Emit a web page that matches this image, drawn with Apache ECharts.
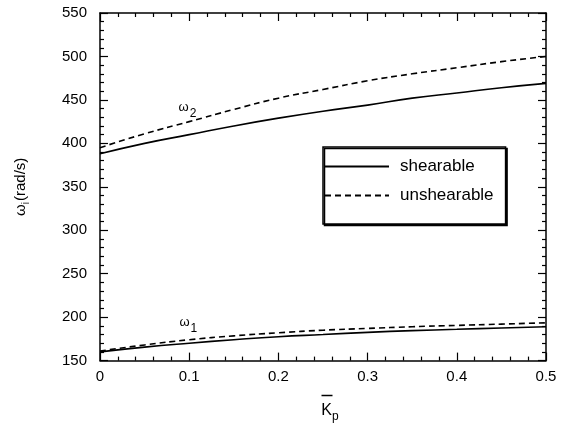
<!DOCTYPE html>
<html>
<head>
<meta charset="utf-8">
<script src="https://cdn.jsdelivr.net/npm/echarts@6/dist/echarts.min.js"></script>
<style>
  html, body { margin: 0; padding: 0; background: #fff; }
  #chart { width: 565px; height: 428px; }
</style>
</head>
<body>
<div id="chart"></div>
<script>
// ---- data ----
const kp = [0, 0.05, 0.1, 0.15, 0.2, 0.25, 0.3, 0.35, 0.4, 0.45, 0.5];
const w2Shearable   = [388, 400, 410, 420, 429, 437, 444, 452, 458, 464, 469];
const w2Unshearable = [395, 411, 425, 439, 452, 462, 472, 480, 487, 494, 500];
const w1Shearable   = [160, 165.5, 170, 174, 177.5, 180, 182.5, 184.5, 186, 187.5, 189];
const w1Unshearable = [161, 168, 174, 178.5, 182, 185, 187, 189, 190.5, 192, 193.5];
const seriesNames = ['shearable', 'unshearable'];
const xTicks = { min: 0, max: 0.5, interval: 0.1 };
const yTicks = { min: 150, max: 550, interval: 50 };
const omega2LabelAt = [0.098, 441];
const omega1LabelAt = [0.099, 194];

const FONT = '"Liberation Sans", Arial, Helvetica, sans-serif';
const chart = echarts.init(document.getElementById('chart'), null, { renderer: 'canvas' });

function pairs(arr) { return kp.map((k, i) => [k, arr[i]]); }

function tickStyle() { return { show: true, inside: true, length: 8, lineStyle: { color: '#000', width: 1.2 } }; }
function minorStyle() { return { show: true, splitNumber: 5, length: 4, lineStyle: { color: '#000', width: 1.2 } }; }
function lineAxis() { return { show: true, onZero: false, lineStyle: { color: '#000', width: 1.5 } }; }

const solid = { color: '#000', width: 1.6, type: 'solid' };
const dashed = { color: '#000', width: 1.6, type: [6, 4] };

function omegaLabel(coord, sub) {
  return {
    symbol: 'circle', symbolSize: 1,
    itemStyle: { color: 'rgba(0,0,0,0)' },
    label: {
      show: true, position: 'inside',
      formatter: '{w|ω}{s|' + sub + '}',
      rich: {
        w: { fontFamily: FONT, fontSize: 13, color: '#000' },
        s: { fontFamily: FONT, fontSize: 12, color: '#000', padding: [12, 0, 0, 1] }
      }
    },
    data: [{ coord: coord }]
  };
}

const option = {
  animation: false,
  backgroundColor: '#fff',
  grid: { left: 100, right: 19, top: 13, bottom: 61, containLabel: false },
  xAxis: [
    {
      type: 'value', min: xTicks.min, max: xTicks.max, interval: xTicks.interval,
      axisLine: lineAxis(), axisTick: tickStyle(), minorTick: minorStyle(),
      splitLine: { show: false },
      axisLabel: { color: '#000', fontFamily: FONT, fontSize: 15, margin: 9,
        formatter: v => (v === 0 ? '0' : String(+v.toFixed(1))) },
      name: '{bar|}{sp|}\n{k|K}{p|p}',
      nameLocation: 'middle', nameGap: 31,
      nameTextStyle: {
        padding: [0, 0, 0, 14],
        rich: {
          bar: { width: 11, height: 1.5, lineHeight: 5, backgroundColor: '#000' },
          sp: { width: 6, height: 1.5, lineHeight: 5 },
          k: { fontFamily: FONT, fontSize: 16, color: '#000' },
          p: { fontFamily: FONT, fontSize: 12, color: '#000', padding: [13, 0, 0, 0] }
        }
      }
    },
    {
      type: 'value', position: 'top', min: xTicks.min, max: xTicks.max, interval: xTicks.interval,
      axisLine: lineAxis(), axisTick: tickStyle(), minorTick: minorStyle(),
      splitLine: { show: false }, axisLabel: { show: false }
    }
  ],
  yAxis: [
    {
      type: 'value', min: yTicks.min, max: yTicks.max, interval: yTicks.interval,
      axisLine: lineAxis(), axisTick: tickStyle(), minorTick: minorStyle(),
      splitLine: { show: false },
      axisLabel: { color: '#000', fontFamily: FONT, fontSize: 15, margin: 13 },
      name: '{w|ω}{i|i}{t|(rad/s)}',
      nameLocation: 'middle', nameGap: 69,
      nameTextStyle: {
        rich: {
          w: { fontFamily: FONT, fontSize: 15, color: '#000' },
          i: { fontFamily: FONT, fontSize: 10, color: '#000', padding: [10, 1, 0, 0] },
          t: { fontFamily: FONT, fontSize: 15, color: '#000' }
        }
      }
    },
    {
      type: 'value', position: 'right', min: yTicks.min, max: yTicks.max, interval: yTicks.interval,
      axisLine: lineAxis(), axisTick: tickStyle(), minorTick: minorStyle(),
      splitLine: { show: false }, axisLabel: { show: false }
    }
  ],
  legend: {
    orient: 'vertical', left: 323, top: 147,
    data: seriesNames,
    itemWidth: 64, itemHeight: 17, itemGap: 12,
    padding: [11, 12, 20, 1],
    borderColor: '#000', borderWidth: 1.5, borderRadius: 0,
    backgroundColor: '#fff',
    shadowColor: '#000', shadowOffsetX: 1.5, shadowOffsetY: 1.5, shadowBlur: 0,
    itemStyle: { opacity: 0 },
    textStyle: { fontFamily: FONT, fontSize: 17, color: '#000', padding: [0, 0, 0, 6] }
  },
  series: [
    { name: seriesNames[0], type: 'line', data: pairs(w2Shearable), smooth: true,
      symbol: 'none', lineStyle: solid, itemStyle: { color: '#000' },
      markPoint: omegaLabel(omega2LabelAt, '2') },
    { name: seriesNames[1], type: 'line', data: pairs(w2Unshearable), smooth: true,
      symbol: 'none', lineStyle: dashed, itemStyle: { color: '#000' } },
    { name: seriesNames[0], type: 'line', data: pairs(w1Shearable), smooth: true,
      symbol: 'none', lineStyle: solid, itemStyle: { color: '#000' },
      markPoint: omegaLabel(omega1LabelAt, '1') },
    { name: seriesNames[1], type: 'line', data: pairs(w1Unshearable), smooth: true,
      symbol: 'none', lineStyle: dashed, itemStyle: { color: '#000' } }
  ]
};
chart.setOption(option);
</script>
</body>
</html>
